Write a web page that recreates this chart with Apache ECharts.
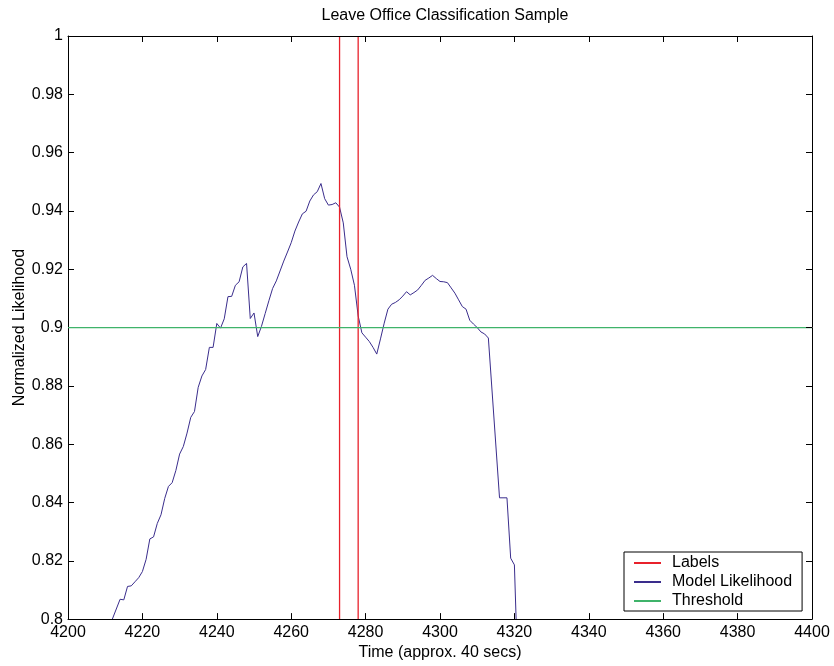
<!DOCTYPE html>
<html>
<head>
<meta charset="utf-8">
<title>Leave Office Classification Sample</title>
<script src="https://cdn.jsdelivr.net/npm/echarts@6/dist/echarts.min.js"></script>
<style>
  html, body { margin: 0; padding: 0; background: #fff; }
  #chart { width: 834px; height: 666px; }
</style>
</head>
<body>
<div id="chart"></div>
<script>
// data
var timeValues = [
  4211, 4214, 4215, 4216, 4217, 4218, 4219, 4220, 4221, 4222,
  4223, 4224, 4225, 4226, 4227, 4228, 4229, 4230, 4231, 4232,
  4233, 4234, 4235, 4236, 4237, 4238, 4239, 4240, 4241, 4242,
  4243, 4244, 4245, 4246, 4247, 4248, 4249, 4250, 4251, 4252,
  4253, 4254, 4255, 4256, 4257, 4258, 4259, 4260, 4261, 4262,
  4263, 4264, 4265, 4266, 4267, 4268, 4269, 4270, 4271, 4272,
  4273, 4274, 4275, 4276, 4277, 4278, 4279, 4280, 4281, 4282,
  4283, 4284, 4285, 4286, 4287, 4288, 4289, 4290, 4291, 4292,
  4293, 4294, 4295, 4296, 4297, 4298, 4299, 4300, 4301, 4302,
  4303, 4304, 4305, 4306, 4307, 4308, 4309, 4310, 4311, 4312,
  4313, 4316, 4318, 4319, 4320, 4321
];
var likelihoodValues = [
  0.7970, 0.8068, 0.8066, 0.8112, 0.8114, 0.8128, 0.8142, 0.8163, 0.8205, 0.8275,
  0.8282, 0.8328, 0.8358, 0.8414, 0.8455, 0.8468, 0.8510, 0.8566, 0.8592, 0.8638,
  0.8692, 0.8712, 0.8795, 0.8834, 0.8856, 0.8932, 0.8932, 0.9014, 0.8998, 0.9030,
  0.9106, 0.9107, 0.9145, 0.9157, 0.9208, 0.9220, 0.9031, 0.9050, 0.8969, 0.9004,
  0.9048, 0.9092, 0.9134, 0.9160, 0.9194, 0.9228, 0.9259, 0.9291, 0.9331, 0.9362,
  0.9390, 0.9399, 0.9434, 0.9455, 0.9466, 0.9494, 0.9442, 0.9420, 0.9422, 0.9428,
  0.9413, 0.9359, 0.9243, 0.9200, 0.9145, 0.9040, 0.8982, 0.8967, 0.8952, 0.8932,
  0.8909, 0.8961, 0.9015, 0.9063, 0.9080, 0.9086, 0.9095, 0.9108, 0.9123, 0.9112,
  0.9120, 0.9129, 0.9145, 0.9162, 0.9170, 0.9179, 0.9168, 0.9158, 0.9157, 0.9154,
  0.9136, 0.9118, 0.9095, 0.9072, 0.9063, 0.9025, 0.9012, 0.9000, 0.8985, 0.8978,
  0.8964, 0.8416, 0.8416, 0.8209, 0.8186, 0.7783
];
// label edges (start / end of the labelled event), drawn from 0 to 1
var labelEdges = [4273, 4278];
var labelLow = 0, labelHigh = 1;
// threshold
var thresholdTimes  = [4200, 4400];
var thresholdValues = [0.9, 0.9];

var xMin = 4200, xMax = 4400, xStep = 20;
var yMin = 0.8, yMax = 1, yStep = 0.02;

function pairs(xs, ys) {
  return xs.map(function (x, i) { return [x, ys[i]]; });
}

// each edge is its own vertical segment, broken apart by a null point
function edgeSegments(edges) {
  var out = [];
  edges.forEach(function (t, i) {
    if (i > 0) out.push([t, null]);
    out.push([t, labelLow], [t, labelHigh]);
  });
  return out;
}

var font = 'Liberation Sans, Arial, Helvetica, sans-serif';
var fontSize = 16;

var chart = echarts.init(document.getElementById('chart'));

var axisCommon = {
  type: 'value',
  axisLine: { show: true, lineStyle: { color: '#000', width: 1 } },
  axisTick: { show: true, inside: true, length: 6, lineStyle: { color: '#000' } },
  splitLine: { show: false }
};

var option = {
  backgroundColor: '#fff',
  animation: false,
  title: {
    text: 'Leave Office Classification Sample',
    left: 440, top: 3, textAlign: 'center',
    textStyle: { fontFamily: font, fontSize: fontSize, fontWeight: 'normal', color: '#000' }
  },
  grid: { left: 68, right: 22, top: 36, bottom: 45 },
  legend: {
    orient: 'vertical',
    left: 624, top: 552,
    padding: [3, 10, 2, 10],
    itemGap: 3,
    itemWidth: 27, itemHeight: 2,
    icon: 'rect',
    borderColor: '#000', borderWidth: 1,
    backgroundColor: '#fff',
    textStyle: { fontFamily: font, fontSize: fontSize, color: '#000', padding: [0, 0, 0, 6], lineHeight: 16 },
    data: ['Labels', 'Model Likelihood', 'Threshold']
  },
  xAxis: [
    Object.assign({}, axisCommon, {
      min: xMin, max: xMax, interval: xStep, position: 'bottom', z: 10,
      name: 'Time (approx. 40 secs)', nameLocation: 'middle', nameGap: 23,
      nameTextStyle: { fontFamily: font, fontSize: fontSize, color: '#000' },
      axisLabel: {
        fontFamily: font, fontSize: fontSize, color: '#000', margin: 5,
        formatter: function (v) { return String(v); }
      }
    }),
    Object.assign({}, axisCommon, {
      min: xMin, max: xMax, interval: xStep, position: 'top', z: 10,
      axisLabel: { show: false }
    })
  ],
  yAxis: [
    Object.assign({}, axisCommon, {
      min: yMin, max: yMax, interval: yStep, position: 'left',
      name: 'Normalized Likelihood', nameLocation: 'middle', nameGap: 40,
      nameMoveOverlap: false,
      nameTextStyle: { fontFamily: font, fontSize: fontSize, color: '#000' },
      axisLabel: { fontFamily: font, fontSize: fontSize, color: '#000', margin: 5 }
    }),
    Object.assign({}, axisCommon, {
      min: yMin, max: yMax, interval: yStep, position: 'right', z: 10,
      axisLabel: { show: false }
    })
  ],
  series: [
    {
      name: 'Labels', type: 'line', symbol: 'none',
      color: '#e8212b', z: 3, connectNulls: false,
      emphasis: { disabled: true },
      lineStyle: { width: 1.3, color: '#e8212b' },
      data: edgeSegments(labelEdges)
    },
    {
      name: 'Model Likelihood', type: 'line', symbol: 'none',
      color: '#3a2d8c', z: 2,
      emphasis: { disabled: true },
      lineStyle: { width: 1, color: '#3a2d8c' },
      data: pairs(timeValues, likelihoodValues)
    },
    {
      name: 'Threshold', type: 'line', symbol: 'none',
      color: '#3fb36a', z: 4,
      emphasis: { disabled: true },
      lineStyle: { width: 1.3, color: '#3fb36a' },
      data: pairs(thresholdTimes, thresholdValues)
    }
  ]
};

chart.setOption(option);
</script>
</body>
</html>
